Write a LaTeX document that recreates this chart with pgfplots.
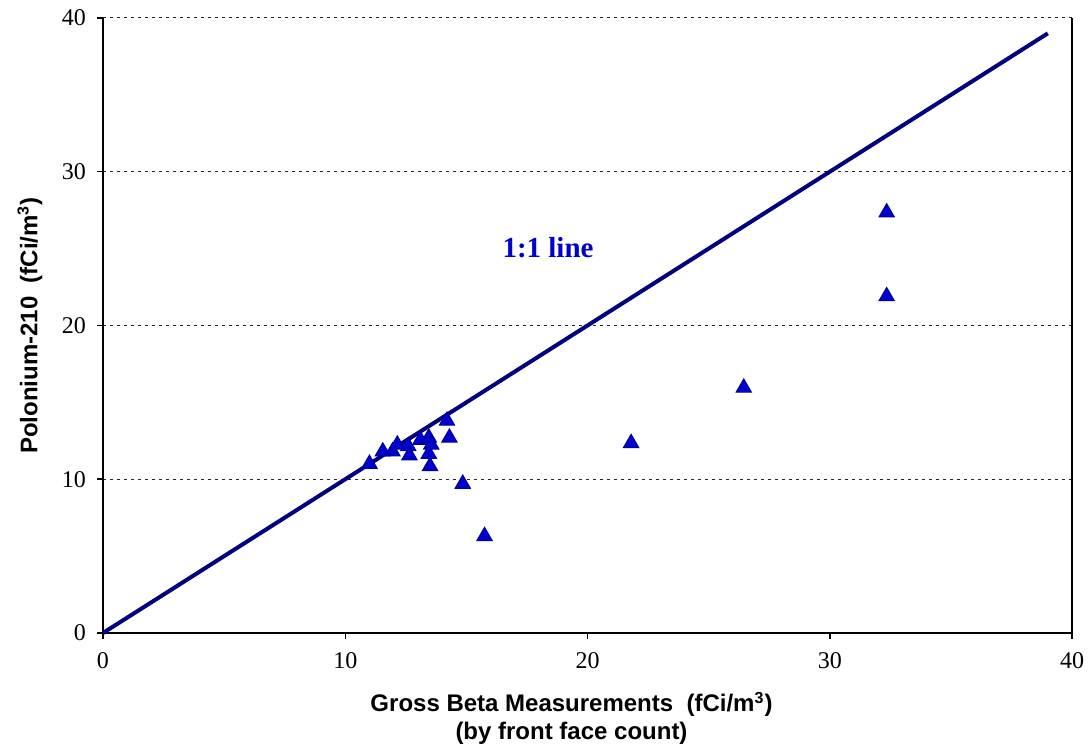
\documentclass[border=0pt]{standalone}
\usepackage{pgfplots}
\pgfplotsset{compat=1.18}
\usepackage{fontspec}
\setmainfont{Liberation Serif}
\newfontfamily\arialf{Liberation Sans}
\definecolor{navyline}{RGB}{0,0,128}
\definecolor{markblue}{RGB}{0,0,210}
\definecolor{markedge}{RGB}{0,0,150}
\definecolor{textblue}{RGB}{0,0,204}
\begin{document}
\begin{tikzpicture}
\begin{axis}[
  scale only axis,
  width=484.5pt, height=307.5pt,
  xmin=0, xmax=40, ymin=0, ymax=40,
  xtick={0,10,20,30,40}, ytick={0,10,20,30,40},
  axis x line*=bottom, axis y line*=left,
  axis line style={black, line width=0.75pt},
  every outer x axis line/.append style={-},
  every outer y axis line/.append style={-},
  tick style={black, line width=0.75pt},
  tick align=outside, major tick length=3pt,
  ymajorgrids,
  major grid style={black!85, line width=0.5pt, dash pattern=on 1.5pt off 2pt},
  tick label style={font=\fontsize{12}{14}\selectfont},
  /pgf/number format/assume math mode=true,
  xticklabel style={yshift=-3pt},
  yticklabel style={xshift=-2pt},
  every axis x label/.style={at={(rel axis cs:0.5,0)}, anchor=north, xshift=-8pt, yshift=-26pt, align=center, font=\arialf\bfseries\fontsize{12}{14}\selectfont},
  every axis y label/.style={at={(rel axis cs:0,0.5)}, rotate=90, anchor=center, yshift=36.5pt, font=\arialf\bfseries\fontsize{12}{14}\selectfont},
  xlabel={Gross Beta Measurements\ \ (fCi/m\textsuperscript{3})\\(by front face count)},
  ylabel={Polonium-210\ \ (fCi/m\textsuperscript{3})},
  clip=false,
]
\addplot[navyline, line width=2pt] coordinates {(0,0) (39,39)};
\addplot[only marks, mark=triangle*, mark size=4.4pt,
  mark options={fill=markblue, draw=markedge, line width=0.5pt}] coordinates {
(11.0,11.0)
(11.55,11.8)
(11.95,11.8)
(12.15,12.25)
(12.6,12.15)
(12.65,11.55)
(13.1,12.55)
(13.45,12.7)
(13.55,12.25)
(13.45,11.65)
(13.5,10.85)
(14.2,13.8)
(14.3,12.7)
(14.85,9.7)
(15.75,6.3)
(21.8,12.35)
(26.45,15.95)
(32.35,27.35)
(32.35,21.9)
};
\node[textblue, font=\bfseries\fontsize{14.5}{16}\selectfont] at (axis cs:18.37,25.04) {1:1 line};
\coordinate (bl) at (rel axis cs:0,0);
\coordinate (tr) at (rel axis cs:1,1);
\draw[black, line width=0.75pt] (rel axis cs:1,0) -- (rel axis cs:1,1);
\end{axis}
\pgfresetboundingbox
\path ([shift={(-51.5pt,-57pt)}]bl) rectangle ([shift={(9.5pt,9pt)}]tr);
\end{tikzpicture}
\end{document}
